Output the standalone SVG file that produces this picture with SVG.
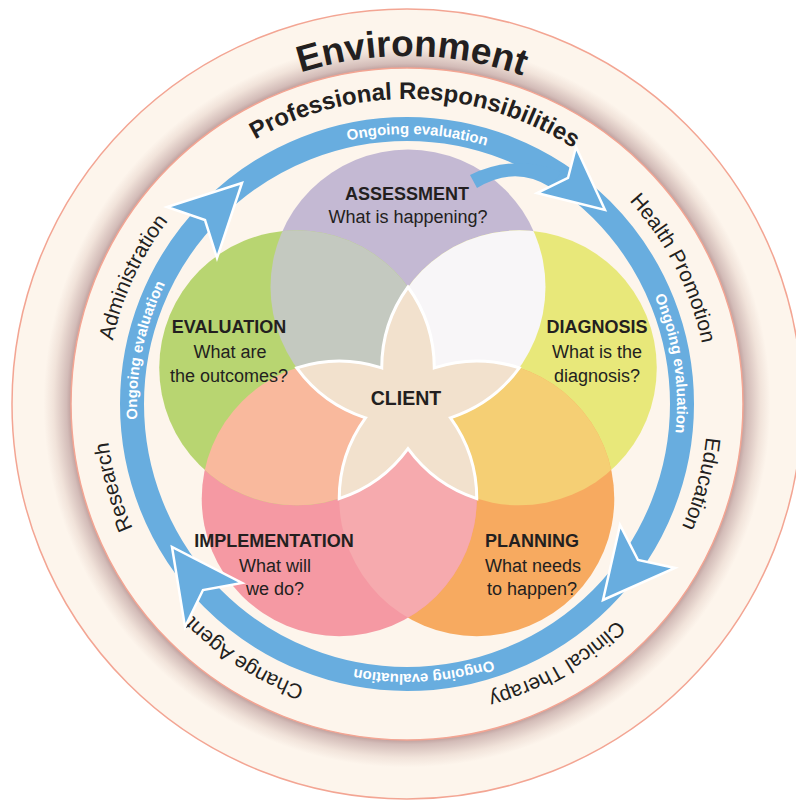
<svg xmlns="http://www.w3.org/2000/svg" width="796" height="800" viewBox="0 0 796 800">
  <defs>
    <style>
      text{font-family:'Liberation Sans',Arial,Helvetica,sans-serif;fill:#231f20}
      .title{font-size:18px;font-weight:bold;text-anchor:middle}
      .q{font-size:18px;text-anchor:middle}
      .ring{font-size:21px;text-anchor:middle}
      .band-lbl{font-size:15px;font-weight:bold;fill:#fff;text-anchor:middle}
      .head{fill:#68addf;stroke:#fff;stroke-width:2.5;stroke-linejoin:miter;stroke-miterlimit:10}
    </style>
    <!-- soft shadow cast by the inner disc onto the outer ring -->
    <radialGradient id="ringShade" gradientUnits="userSpaceOnUse" cx="407" cy="404" r="395">
      <stop offset="0.85" stop-color="#bf9f9d"/>
      <stop offset="0.862" stop-color="#d3bcb8"/>
      <stop offset="0.895" stop-color="#f1e3da"/>
      <stop offset="0.92" stop-color="#fdf5ec"/>
      <stop offset="1" stop-color="#fdf5ec"/>
    </radialGradient>
    <clipPath id="cA"><circle cx="408" cy="287" r="137.5"/></clipPath>
    <clipPath id="cD"><circle cx="519.27" cy="367.84" r="137.5"/></clipPath>
    <clipPath id="cP"><circle cx="476.77" cy="498.65" r="137.5"/></clipPath>
    <clipPath id="cI"><circle cx="339.23" cy="498.65" r="137.5"/></clipPath>
    <!-- clockwise arcs used as text baselines -->
    <path id="pEnv" d="M81.68,280.42 A348,348 0 0 1 735.64,289.55"/>
    <path id="pProf" d="M123.42,291.72 A305,305 0 0 1 696.41,307.73"/>
    <path id="pOgTop" d="M157.02,301.98 A270,270 0 0 1 664.08,321.46"/>
    <path id="pOgRight" d="M459.91,139.24 A270,270 0 0 1 536.66,640.83"/>
    <path id="pOgBottom" d="M666.01,480.23 A270,270 0 0 1 159.58,512.09"/>
    <path id="pOgLeft" d="M265.52,633.97 A270,270 0 0 1 367.56,136.90"/>
    <path id="pAdmin" d="M194.91,617.58 A301,301 0 0 1 432.19,104.06"/>
    <path id="pHealth" d="M370.32,105.24 A301,301 0 0 1 627.14,609.28"/>
    <path id="pEdu" d="M580.51,158.04 A301,301 0 0 1 432.19,703.94"/>
    <path id="pClin" d="M703.52,352.25 A301,301 0 0 1 213.19,634.30"/>
    <path id="pChange" d="M589.82,643.12 A301,301 0 0 1 113.25,338.34"/>
    <path id="pResearch" d="M384.96,704.19 A301,301 0 0 1 230.93,159.87"/>
  </defs>

  <rect width="796" height="800" fill="#ffffff"/>

  <!-- outer ring -->
  <g id="environment">
    <circle cx="407" cy="404" r="395" fill="url(#ringShade)" stroke="#f3a593" stroke-width="1.5"/>
    <text style="font-size:37px;font-weight:bold;text-anchor:middle"><textPath href="#pEnv" startOffset="50%">Environment</textPath></text>
  </g>

  <!-- inner ring of roles -->
  <g id="professional-responsibilities">
    <circle cx="407" cy="404" r="336" fill="#fdf5ec" stroke="#f3a593" stroke-width="1.5"/>
    <text style="font-size:24px;font-weight:bold;text-anchor:middle"><textPath href="#pProf" startOffset="50%">Professional Responsibilities</textPath></text>
    <text class="ring"><textPath href="#pHealth" startOffset="50%">Health Promotion</textPath></text>
    <text class="ring"><textPath href="#pEdu" startOffset="50%">Education</textPath></text>
    <text class="ring"><textPath href="#pClin" startOffset="50%">Clinical Therapy</textPath></text>
    <text class="ring"><textPath href="#pChange" startOffset="50%">Change Agent</textPath></text>
    <text class="ring"><textPath href="#pResearch" startOffset="50%">Research</textPath></text>
    <text class="ring"><textPath href="#pAdmin" startOffset="50%">Administration</textPath></text>
  </g>

  <!-- five overlapping phase circles -->
  <g id="assessment">
    <circle cx="408" cy="287" r="137.5" fill="#c4b9d3"/>
    <text class="title" x="407" y="200">ASSESSMENT</text>
    <text class="q" x="408" y="223">What is happening?</text>
  </g>
  <g id="diagnosis">
    <circle cx="519.27" cy="367.84" r="137.5" fill="#e8e87a"/>
    <circle cx="519.27" cy="367.84" r="137.5" fill="#f8f6f8" clip-path="url(#cA)"/>
    <text class="title" x="597" y="333">DIAGNOSIS</text>
    <text class="q" x="597" y="358">What is the</text>
    <text class="q" x="597" y="382">diagnosis?</text>
  </g>
  <g id="planning">
    <circle cx="476.77" cy="498.65" r="137.5" fill="#f7aa60"/>
    <circle cx="476.77" cy="498.65" r="137.5" fill="#f5cf74" clip-path="url(#cD)"/>
    <text class="title" x="532" y="547">PLANNING</text>
    <text class="q" x="533" y="572">What needs</text>
    <text class="q" x="532" y="595">to happen?</text>
  </g>
  <g id="implementation">
    <circle cx="339.23" cy="498.65" r="137.5" fill="#f599a3"/>
    <circle cx="339.23" cy="498.65" r="137.5" fill="#f6aaae" clip-path="url(#cP)"/>
    <text class="title" x="274" y="547">IMPLEMENTATION</text>
    <text class="q" x="275" y="572">What will</text>
    <text class="q" x="275" y="595">we do?</text>
  </g>
  <g id="evaluation">
    <circle cx="296.73" cy="367.84" r="137.5" fill="#b8d571"/>
    <circle cx="296.73" cy="367.84" r="137.5" fill="#f9b99d" clip-path="url(#cI)"/>
    <circle cx="296.73" cy="367.84" r="137.5" fill="#c4c9c0" clip-path="url(#cA)"/>
    <text class="title" x="229" y="333">EVALUATION</text>
    <text class="q" x="230" y="358">What are</text>
    <text class="q" x="229" y="382">the outcomes?</text>
  </g>

  <!-- central star where three or more circles meet -->
  <g id="client">
    <path d="M408,287 A137.5,137.5 0 0 0 381.73,367.84 A137.5,137.5 0 0 0 296.73,367.84 A137.5,137.5 0 0 0 365.49,417.81 A137.5,137.5 0 0 0 339.23,498.65 A137.5,137.5 0 0 0 408,448.7 A137.5,137.5 0 0 0 476.77,498.65 A137.5,137.5 0 0 0 450.51,417.81 A137.5,137.5 0 0 0 519.27,367.84 A137.5,137.5 0 0 0 434.27,367.84 A137.5,137.5 0 0 0 408,287 Z" fill="#f2e1cd" stroke="#ffffff" stroke-width="3" stroke-linejoin="miter"/>
    <text x="406" y="405" style="font-size:19.5px;font-weight:bold;text-anchor:middle">CLIENT</text>
  </g>

  <!-- ongoing evaluation cycle -->
  <g id="connectors">
    <circle cx="407" cy="404" r="275" fill="none" stroke="#68addf" stroke-width="24"/>
    <path d="M470,175 Q515,153 562,172 L550,187 Q515,165 477,188 Z" fill="#68addf"/>
    <polygon class="head" points="242,183 167,207 205,220 217,258"/>
    <polygon class="head" points="605,210 576,147 568,178 537,193"/>
    <polygon class="head" points="603,600 675,568 638,560 620,525"/>
    <polygon class="head" points="172,547 185,627 203,590 242,583"/>
    <text class="band-lbl"><textPath href="#pOgTop" startOffset="50%">Ongoing evaluation</textPath></text>
    <text class="band-lbl"><textPath href="#pOgRight" startOffset="50%">Ongoing evaluation</textPath></text>
    <text class="band-lbl"><textPath href="#pOgBottom" startOffset="50%">Ongoing evaluation</textPath></text>
    <text class="band-lbl"><textPath href="#pOgLeft" startOffset="50%">Ongoing evaluation</textPath></text>
  </g>
</svg>
